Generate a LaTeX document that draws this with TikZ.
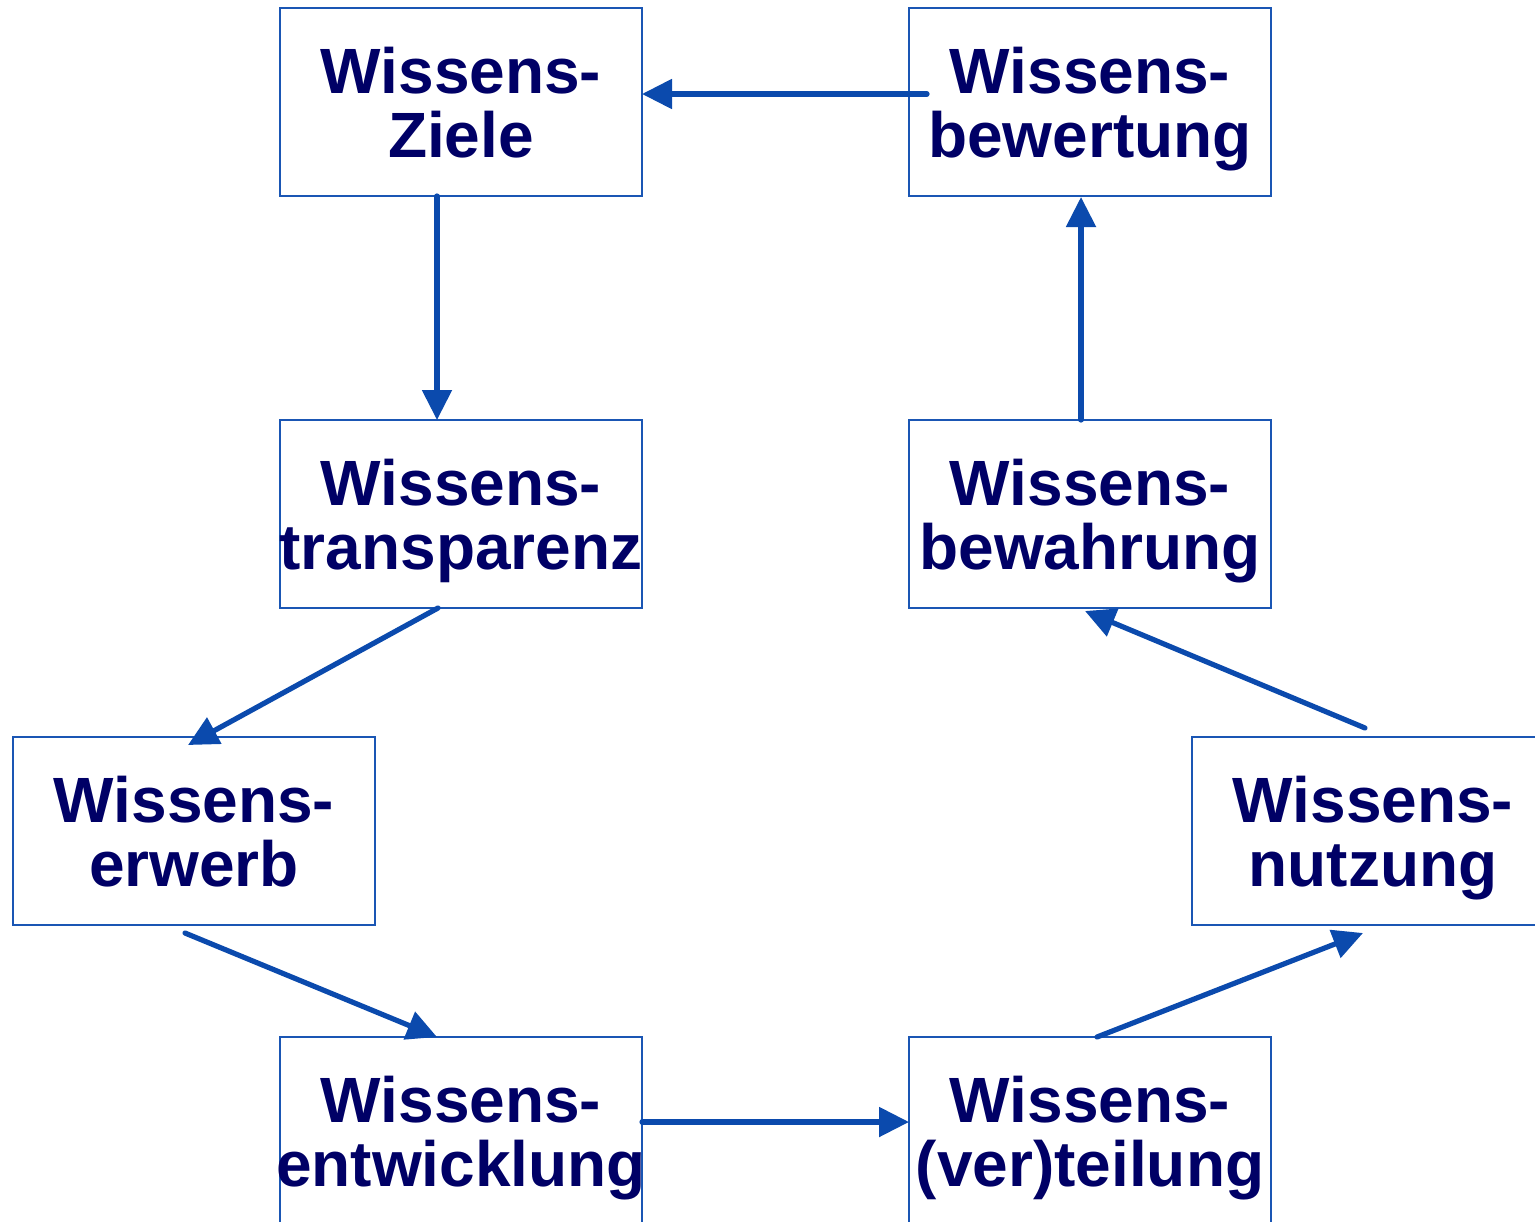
\documentclass[tikz,border=0pt]{standalone}
\usepackage{fontspec}
\setmainfont{Liberation Sans}
\usetikzlibrary{arrows.meta,calc}
\definecolor{textnavy}{HTML}{000066}
\definecolor{linkblue}{HTML}{0B4AAD}
\definecolor{frameblue}{HTML}{1A56B4}
% two centred lines whose width does not widen the box
\newcommand{\phaselines}[2]{\makebox[0pt]{#1}\\\makebox[0pt]{#2}}
\tikzset{
  phase/.style={draw=frameblue, line width=1pt, fill=white, anchor=north west,
    minimum width=181pt, minimum height=94pt, inner sep=0pt, outer sep=0pt,
    align=center, text=textnavy, text depth=0pt,
    font=\fontsize{32}{32}\selectfont\bfseries},
  flow/.style={draw=linkblue, line width=2.6pt, line cap=round,
    -{Triangle[length=15pt,width=14.5pt]}}
}
\begin{document}
\begin{tikzpicture}[x=0.5pt,y=-0.5pt]
  \clip (0,0) rectangle (1535,1221);
  \fill[white] (0,0) rectangle (1535,1221);

  % the eight building blocks of the knowledge management cycle
  \node[phase] (ziele)   at (280,8)    {\phaselines{Wissens-}{Ziele}};
  \node[phase] (bewert)  at (909,8)    {\phaselines{Wissens-}{bewertung}};
  \node[phase] (trans)   at (280,420)  {\phaselines{Wissens-}{transparenz}};
  \node[phase] (bewahr)  at (909,420)  {\phaselines{Wissens-}{bewahrung}};
  \node[phase] (erwerb)  at (13,737)   {\phaselines{Wissens-}{erwerb}};
  \node[phase] (nutz)    at (1192,737) {\phaselines{Wissens-}{nutzung}};
  \node[phase] (entw)    at (280,1037) {\phaselines{Wissens-}{entwicklung}};
  \node[phase] (vert)    at (909,1037) {\phaselines{Wissens-}{(ver)teilung}};

  % connectors of the cycle
  \draw[flow] ($(bewert.west)+(18,-8)$) -- ($(ziele.east)+(0,-8)$);
  \draw[flow] ($(ziele.south)+(-24,0)$) -- ($(trans.north)+(-24,0)$);
  \draw[flow] ($(trans.south)+(-23,0)$) -- ($(erwerb.north)+(-6,8)$);
  \draw[flow] ($(erwerb.south)+(-9,8)$) -- ($(entw.north)+(-24,0)$);
  \draw[flow] ($(entw.east)+(0,-9)$) -- ($(vert.west)+(0,-9)$);
  \draw[flow] ($(vert.north)+(7,0)$) -- ($(nutz.south)+(-10,8)$);
  \draw[flow] ($(nutz.north)+(-8,-9)$) -- ($(bewahr.south)+(-5,3)$);
  \draw[flow] ($(bewahr.north)+(-9,0)$) -- ($(bewert.south)+(-9,1)$);
\end{tikzpicture}
\end{document}
